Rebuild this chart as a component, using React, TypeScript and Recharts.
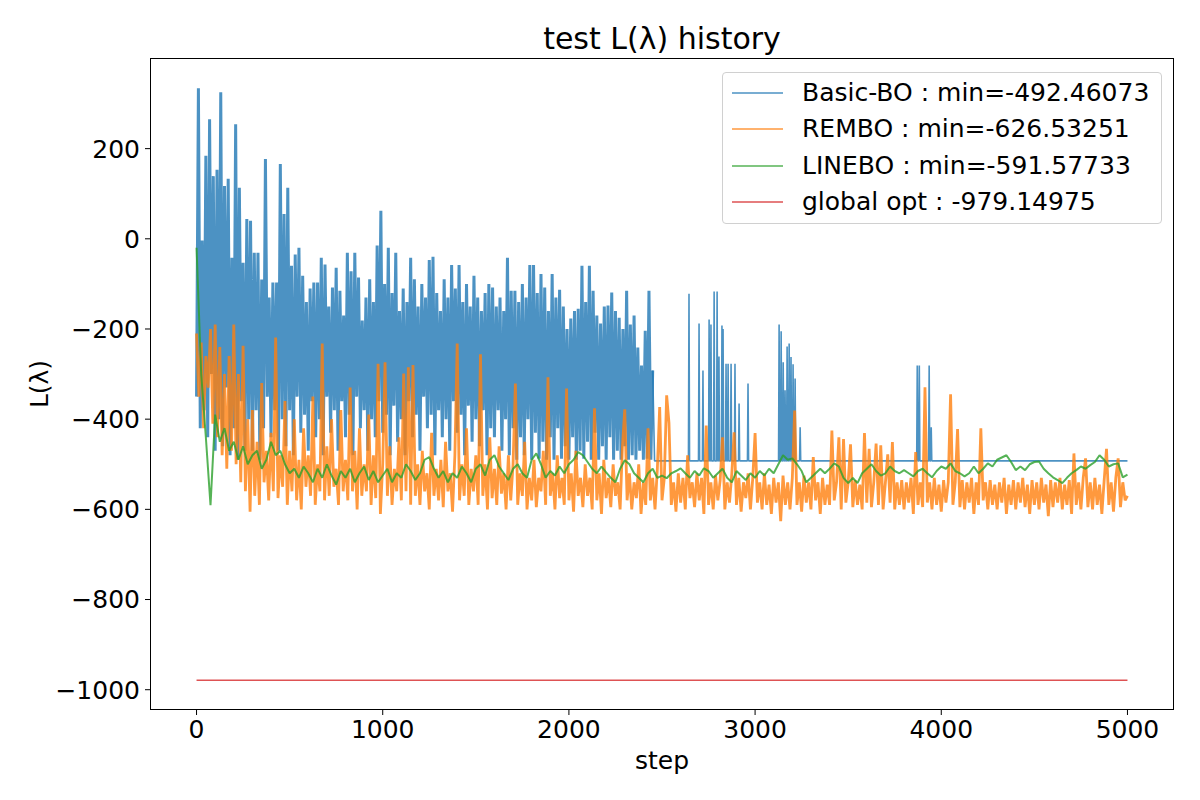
import { Line, LineChart, XAxis, YAxis } from 'recharts'

const FONT = '"DejaVu Sans", sans-serif'

const xTicks = [0, 1000, 2000, 3000, 4000, 5000]
const yTicks = [200, 0, -200, -400, -600, -800, -1000]

// Basic-BO, dense part, one value every 10 steps (0..2450)
const blueDenseValues = [
  -350, 334, -420, -4, -380, 184, -440, 265, -300, 139,
  -470, 153, -400, 325, -460, 117, -330, 133, -480, -42,
  -420, 254, -490, 113, -360, -53, -470, 44, -400, 40,
  -470, -31, -380, -31, -490, -90, -420, 177, -350, -130,
  -440, -97, -380, -97, -470, 166, -400, 55, -460, 113,
  -380, -60, -480, -35, -350, -20, -430, -82, -390, -140,
  -470, -110, -360, -97, -440, -97, -400, -42, -480, -57,
  -350, -150, -430, -108, -380, -64, -470, -115, -360, -170,
  -440, -31, -390, -72, -480, -31, -350, -86, -420, -181,
  -380, -130, -470, -90, -400, -140, -440, -15, -360, 62,
  -430, -100, -390, -20, -480, -120, -370, -31, -450, -160,
  -400, -110, -480, -140, -360, -42, -440, -90, -390, -150,
  -470, -100, -350, -130, -420, -47, -390, -40, -480, -120,
  -380, -160, -440, -90, -400, -130, -470, -58, -360, -110,
  -430, -58, -390, -140, -480, -100, -370, -150, -450, -82,
  -400, -130, -460, -160, -380, -120, -480, -100, -420, -108,
  -440, -150, -380, -130, -470, -160, -400, -42, -480, -115,
  -420, -115, -490, -140, -440, -100, -480, -130, -400, -58,
  -490, -58, -430, -120, -488, -78, -450, -108, -490, -160,
  -440, -78, -490, -130, -420, -113, -488, -150, -460, -200,
  -490, -177, -440, -160, -490, -155, -470, -60, -488, -140,
  -450, -60, -490, -115, -430, -170, -490, -188, -460, -150,
  -490, -148, -440, -119, -490, -160, -470, -175, -490, -200,
  -460, -115, -490, -190, -480, -170, -490, -241, -470, -281,
  -490, -204, -488, -115, -490, -292,
]

// Basic-BO after step 2450: flat at its minimum with isolated spikes
const blueTailSteps = [
  2460, 2642, 2645, 2648, 2696, 2699, 2702, 2717, 2720, 2723,
  2750, 2753, 2756, 2760, 2763, 2766, 2777, 2780, 2783, 2793,
  2796, 2799, 2803, 2806, 2809, 2819, 2822, 2825, 2828, 2831,
  2841, 2844, 2847, 2852, 2855, 2858, 2868, 2871, 2874, 2889,
  2892, 2895, 2911, 2914, 2917, 2959, 2962, 2965, 3126, 3129,
  3132, 3137, 3140, 3143, 3148, 3151, 3154, 3158, 3161, 3164,
  3169, 3172, 3175, 3180, 3183, 3186, 3190, 3193, 3196, 3201,
  3204, 3207, 3212, 3215, 3218, 3239, 3242, 3245, 3868, 3871,
  3874, 3879, 3882, 3885, 3932, 3935, 3938, 3943, 3946, 3949,
  5000,
]
const blueTailValues = [
  -492.46, -492.46, -122, -492.46, -492.46, -188, -492.46, -492.46, -292, -492.46,
  -492.46, -179, -492.46, -492.46, -190, -492.46, -492.46, -117, -492.46, -492.46,
  -117, -492.46, -492.46, -261, -492.46, -492.46, -192, -492.46, -200, -492.46,
  -492.46, -277, -492.46, -492.46, -277, -492.46, -492.46, -277, -492.46, -492.46,
  -277, -492.46, -492.46, -365, -492.46, -492.46, -321, -492.46, -492.46, -190,
  -492.46, -492.46, -205, -492.46, -492.46, -274, -492.46, -492.46, -336, -492.46,
  -492.46, -239, -492.46, -492.46, -232, -492.46, -492.46, -262, -492.46, -492.46,
  -278, -492.46, -492.46, -310, -492.46, -492.46, -418, -492.46, -492.46, -281,
  -492.46, -492.46, -281, -492.46, -492.46, -281, -492.46, -492.46, -418, -492.46,
  -492.46,
]

// REMBO, one value every 12.5 steps (0..5000)
const orangeValues = [
  -210, -350, -230, -420, -260, -330, -200, -410,
  -190, -440, -240, -480, -300, -510, -260, -470,
  -190, -500, -300, -540, -237, -560, -400, -605,
  -380, -570, -450, -590, -320, -540, -470, -580,
  -430, -560, -219, -575, -480, -550, -360, -590,
  -470, -560, -400, -580, -490, -600, -420, -550,
  -480, -570, -350, -590, -500, -560, -232, -580,
  -460, -570, -400, -550, -510, -590, -380, -560,
  -490, -580, -330, -560, -470, -600, -420, -570,
  -500, -560, -390, -590, -480, -575, -277, -610,
  -500, -274, -570, -460, -590, -510, -560, -440,
  -580, -299, -560, -285, -590, -280, -570, -500,
  -590, -470, -560, -520, -600, -430, -570, -510,
  -580, -490, -595, -450, -560, -520, -605, -480,
  -232, -580, -500, -570, -420, -590, -510, -560,
  -480, -590, -256, -570, -500, -600, -440, -575,
  -510, -590, -460, -565, -520, -600, -480, -580,
  -500, -321, -590, -520, -570, -450, -600, -530,
  -580, -490, -595, -530, -560, -470, -590, -307,
  -570, -520, -600, -480, -575, -530, -590, -332,
  -580, -520, -605, -470, -570, -530, -595, -500,
  -570, -530, -600, -376, -580, -520, -610, -490,
  -575, -530, -595, -500, -570, -540, -600, -460,
  -378, -580, -520, -600, -540, -575, -500, -610,
  -540, -590, -420, -580, -530, -600, -510, -373,
  -580, -530, -347, -409, -590, -540, -605, -520,
  -585, -530, -600, -480, -575, -540, -595, -520,
  -580, -530, -610, -414, -590, -540, -600, -525,
  -580, -535, -440, -600, -540, -585, -520, -429,
  -590, -530, -605, -540, -575, -520, -600, -530,
  -431, -585, -540, -600, -520, -590, -545, -610,
  -530, -585, -540, -626, -525, -590, -540, -600,
  -530, -381, -590, -540, -605, -525, -585, -540,
  -600, -484, -580, -540, -610, -530, -590, -545,
  -590, -425, -580, -540, -440, -600, -444, -585,
  -540, -456, -595, -535, -590, -545, -600, -431,
  -585, -466, -595, -540, -454, -590, -458, -600,
  -540, -478, -585, -451, -600, -540, -590, -535,
  -600, -540, -585, -530, -610, -473, -590, -540,
  -595, -329, -585, -540, -600, -530, -590, -545,
  -605, -535, -585, -540, -345, -590, -540, -422,
  -595, -535, -600, -540, -585, -530, -610, -540,
  -590, -420, -580, -540, -600, -535, -590, -545,
  -600, -540, -585, -530, -610, -545, -590, -535,
  -600, -540, -585, -530, -595, -545, -610, -535,
  -590, -540, -600, -530, -585, -545, -615, -535,
  -595, -540, -585, -530, -600, -545, -590, -535,
  -610, -476, -590, -540, -600, -530, -487, -595,
  -540, -600, -530, -590, -545, -610, -535, -466,
  -590, -540, -605, -530, -487, -595, -540, -580,
  -570,
]

// LINEBO, one value every 25 steps (0..5000)
const greenValues = [
  -20, -300, -440, -591, -390, -450, -420, -470,
  -450, -490, -460, -500, -480, -470, -510, -490,
  -450, -480, -470, -500, -520, -510, -530, -505,
  -520, -540, -510, -530, -500, -525, -545, -515,
  -530, -510, -540, -520, -505, -535, -515, -540,
  -525, -510, -540, -520, -530, -500, -515, -535,
  -520, -490, -484, -510, -530, -515, -540, -520,
  -530, -505, -520, -540, -510, -500, -525, -490,
  -480, -505, -520, -535, -510, -500, -520, -530,
  -490, -476, -500, -530, -515, -525, -505, -520,
  -500, -490, -473, -480, -495, -510, -520, -505,
  -518, -530, -540, -510, -491, -500, -520, -530,
  -540, -520, -510, -530, -525, -531, -520, -515,
  -509, -520, -530, -515, -525, -509, -515, -530,
  -520, -510, -530, -540, -515, -525, -535, -520,
  -530, -515, -525, -510, -520, -500, -480, -490,
  -487, -500, -515, -540, -530, -520, -510, -520,
  -510, -498, -505, -530, -542, -530, -542, -520,
  -510, -500, -515, -525, -520, -505, -515, -520,
  -513, -520, -527, -515, -510, -520, -529, -515,
  -505, -510, -498, -515, -520, -527, -520, -505,
  -520, -510, -498, -505, -490, -485, -480, -495,
  -513, -505, -513, -500, -495, -494, -510, -520,
  -529, -535, -542, -530, -520, -513, -505, -510,
  -502, -495, -480, -490, -505, -500, -498, -529,
  -523,
]

const globalOptSteps = [0, 5000]
const globalOptValues = [-979.14975, -979.14975]

const blueDense = blueDenseValues.map((v, i) => ({ step: i * 10, v }))
const blueTail = [
  blueDense[blueDense.length - 1],
  ...blueTailSteps.map((s, i) => ({ step: s, v: blueTailValues[i] })),
]
const orangeData = orangeValues.map((v, i) => ({ step: i * 12.5, v }))
const greenData = greenValues.map((v, i) => ({ step: i * 25, v }))
const redData = globalOptSteps.map((s, i) => ({ step: s, v: globalOptValues[i] }))

const BLUE = '#1f77b4'
const ORANGE = '#ff7f0e'
const GREEN = '#2ca02c'
const RED = '#d62728'

// drawing order follows the original: blue, orange, green, red
// the sampled noisy series get a heavier stroke so they read as the dense band of the original
const lines = [
  { key: 'blue-dense', color: BLUE, data: blueDense, width: 3 },
  { key: 'blue-tail', color: BLUE, data: blueTail, width: 1.6 },
  { key: 'orange', color: ORANGE, data: orangeData, width: 2.8 },
  { key: 'green', color: GREEN, data: greenData, width: 2 },
  { key: 'red', color: RED, data: redData, width: 1.4 },
]

const legendItems = [
  { name: 'Basic-BO : min=-492.46073', color: BLUE },
  { name: 'REMBO : min=-626.53251', color: ORANGE },
  { name: 'LINEBO : min=-591.57733', color: GREEN },
  { name: 'global opt : -979.14975', color: RED },
]

const fmt = (v: number) => (v < 0 ? '\u2212' + Math.abs(v) : String(v))
const tickStyle = { fill: '#000', fontSize: 25, fontFamily: FONT }

export default function App() {
  return (
    <div style={{ position: 'absolute', left: 0, top: 0, width: 1200, height: 800, background: '#fff', fontFamily: FONT }}>
      <LineChart width={1200} height={800} margin={{ top: 58, right: 26, bottom: 50, left: 0 }}>
        <XAxis
          dataKey="step"
          type="number"
          domain={[-250, 5250]}
          ticks={xTicks}
          allowDataOverflow
          height={40}
          axisLine={false}
          tickLine={{ stroke: '#000' }}
          tickSize={5}
          tickMargin={5}
          tick={tickStyle}
        />
        <YAxis
          type="number"
          domain={[-1045, 401]}
          ticks={yTicks}
          allowDataOverflow
          width={150}
          axisLine={false}
          tickLine={{ stroke: '#000' }}
          tickSize={5}
          tickMargin={5}
          tick={tickStyle}
          tickFormatter={fmt}
        />
        {lines.map(l => (
          <Line
            key={l.key}
            data={l.data}
            dataKey="v"
            type="linear"
            stroke={l.color}
            strokeOpacity={0.8}
            strokeWidth={l.width}
            strokeLinejoin="bevel"
            dot={false}
            activeDot={false}
            isAnimationActive={false}
          />
        ))}
      </LineChart>

      {/* axes frame */}
      <div style={{ position: 'absolute', left: 150, top: 58, width: 1024, height: 652, border: '1px solid #000', boxSizing: 'border-box', pointerEvents: 'none' }} />

      {/* title */}
      <div style={{ position: 'absolute', left: 150, top: 21, width: 1024, textAlign: 'center', fontSize: 30, lineHeight: '36px', color: '#000' }}>
        test L(λ) history
      </div>

      {/* x label */}
      <div style={{ position: 'absolute', left: 150, top: 746, width: 1024, textAlign: 'center', fontSize: 25, lineHeight: '30px', color: '#000' }}>
        step
      </div>

      {/* y label */}
      <div style={{ position: 'absolute', left: 40, top: 384, transform: 'translate(-50%, -50%) rotate(-90deg)', fontSize: 25, lineHeight: '30px', color: '#000', whiteSpace: 'nowrap' }}>
        L(λ)
      </div>

      {/* legend */}
      <div style={{ position: 'absolute', left: 722, top: 72, width: 440, height: 152, boxSizing: 'border-box', border: '1px solid #d0d0d0', borderRadius: 4, background: 'rgba(255,255,255,0.8)' }}>
        {legendItems.map((s, i) => (
          <div key={s.name} style={{ position: 'absolute', left: 0, top: 5 + i * 36.3, height: 30, display: 'flex', alignItems: 'center' }}>
            <svg width={60} height={30} style={{ display: 'block' }}>
              <line x1={9} y1={15} x2={60} y2={15} stroke={s.color} strokeOpacity={0.8} strokeWidth={1.4} />
            </svg>
            <div style={{ marginLeft: 19, fontSize: 25, lineHeight: '30px', color: '#000', whiteSpace: 'nowrap' }}>{s.name}</div>
          </div>
        ))}
      </div>
    </div>
  )
}
